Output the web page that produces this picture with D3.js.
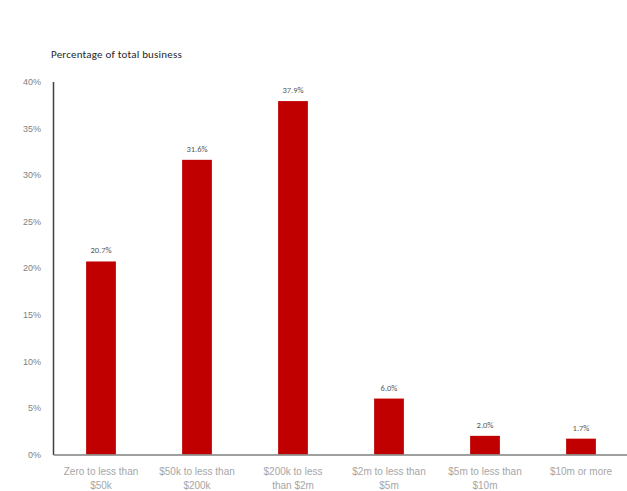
<!DOCTYPE html>
<html><head><meta charset="utf-8">
<script src="https://cdn.jsdelivr.net/npm/d3@7"></script>
<style>
html,body{margin:0;padding:0;background:#fff;overflow:hidden;}
svg{display:block;font-family:Calibri,Carlito,"Liberation Sans",Arial,sans-serif;}
</style></head>
<body>
<svg id="chart" width="627" height="491"></svg>
<script>
const categories = ["Zero to less than $50k", "$50k to less than $200k", "$200k to less than $2m", "$2m  to less than $5m", "$5m to less than $10m", "$10m or more"];
const catLines = [["Zero to less than", "$50k"], ["$50k to less than", "$200k"], ["$200k to less", "than $2m"], ["$2m  to less than", "$5m"], ["$5m to less than", "$10m"], ["$10m or more"]];
const values = [20.7, 31.6, 37.9, 6.0, 2.0, 1.7];
const yTicks = [0, 5, 10, 15, 20, 25, 30, 35, 40];
const title = "Percentage of total business";

const svg = d3.select("#chart");
const mLeft = 53, mRight = 629, mTop = 81.5, mBottom = 454.5;

const x = d3.scaleBand().domain(categories).range([mLeft, mRight]).paddingInner(0.69).paddingOuter(0.345);
const y = d3.scaleLinear().domain([0, 40]).range([mBottom, mTop]);

svg.append("text").attr("x", 51).attr("y", 58).attr("font-size", 11).attr("fill", "#262626")
  .attr("letter-spacing", 0.2).text(title);

// y axis
const ya = svg.append("g").attr("transform", `translate(${mLeft},0)`)
  .call(d3.axisLeft(y).tickValues(yTicks).tickSize(0).tickPadding(12).tickFormat(d => d + "%"));
ya.select(".domain").attr("stroke", "#404040").attr("stroke-width", 1.5);
ya.selectAll("text").attr("font-size", 9).attr("fill", "#7f7f7f").attr("font-family", "inherit");

// bars
svg.append("g").selectAll("rect").data(values).join("rect")
  .attr("x", (d, i) => x(categories[i]))
  .attr("width", x.bandwidth())
  .attr("y", d => y(d))
  .attr("height", d => y(0) - y(d))
  .attr("fill", "#c00000");

// value labels
svg.append("g").selectAll("text").data(values).join("text")
  .attr("x", (d, i) => x(categories[i]) + x.bandwidth() / 2)
  .attr("y", d => y(d) - 8)
  .attr("text-anchor", "middle").attr("font-size", 8.5).attr("fill", "#595959")
  .text(d => d.toFixed(1) + "%");

// x axis
const xa = svg.append("g").attr("transform", `translate(0,${mBottom})`)
  .call(d3.axisBottom(x).tickSize(0).tickFormat(""));
xa.select(".domain").attr("stroke", "#7f7f7f").attr("stroke-width", 1.5);
xa.selectAll(".tick").each(function(d, i) {
  const t = d3.select(this).append("text").attr("fill", "#a6a6a6").attr("font-size", 10)
    .attr("text-anchor", "middle").attr("y", 20);
  catLines[i].forEach((ln, j) => {
    t.append("tspan").attr("x", 0).attr("dy", j === 0 ? 0 : 14).text(ln);
  });
});
</script>
</body></html>
